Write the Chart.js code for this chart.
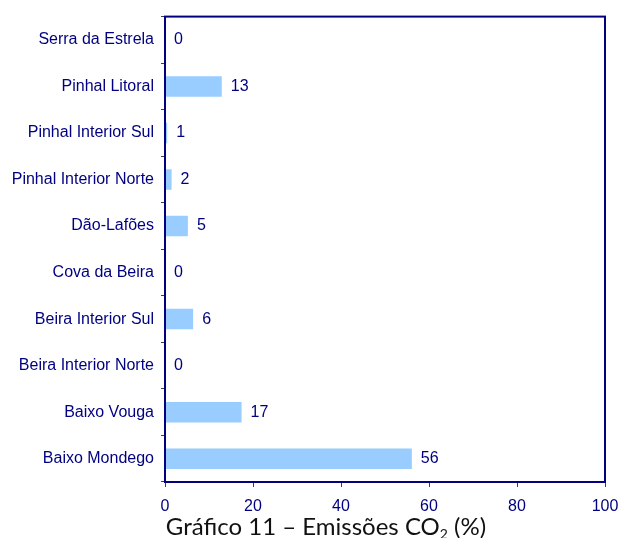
<!DOCTYPE html>
<html lang="pt">
<head>
  <meta charset="UTF-8">
  <title>Emissões CO2</title>
  <script src="https://cdn.jsdelivr.net/npm/chart.js"></script>
  <style>
    body { margin: 0; background: #fff; }
    #wrap { position: relative; width: 621px; height: 538px; }
    #title {
      position: absolute; left: 0; width: 652px; top: 511px;
      text-align: center; font-family: Lato, "Open Sans", sans-serif;
      font-size: 24px; color: #111; white-space: nowrap;
    }
    #title sub { font-size: 14px; vertical-align: -4px; line-height: 0; }
  </style>
</head>
<body>
  <div id="wrap">
    <canvas id="myChart"></canvas>
    <div id="title">Gráfico 11 – Emissões CO<sub>2</sub> (%)</div>
  </div>

<script>
  const regions = ['Serra da Estrela', 'Pinhal Litoral', 'Pinhal Interior Sul', 'Pinhal Interior Norte', 'Dão-Lafões',
    'Cova da Beira', 'Beira Interior Sul', 'Beira Interior Norte', 'Baixo Vouga', 'Baixo Mondego'];
  // % das emissões (rótulos arredondados)
  const emissions = [0, 12.9, 0.5, 1.5, 5.2, 0, 6.4, 0, 17.4, 56.1];
  const xTicks = [0, 20, 40, 60, 80, 100];

  const navy = '#000080';

  // rótulos de valor à direita das barras + moldura da área do gráfico
  const extras = {
    id: 'extras',
    afterDatasetsDraw(chart) {
      const c = chart.ctx;
      const area = chart.chartArea;
      c.save();
      c.font = '16px "Liberation Sans", Arial, sans-serif';
      c.fillStyle = navy;
      c.textAlign = 'left';
      c.textBaseline = 'middle';
      chart.getDatasetMeta(0).data.forEach((bar, i) => {
        c.fillText(String(Math.round(emissions[i])), bar.x + 9, bar.y);
      });
      c.strokeStyle = navy;
      c.lineWidth = 2;
      c.strokeRect(area.left, area.top, area.right - area.left, area.bottom - area.top);
      c.restore();
    }
  };

  const ctx = document.getElementById('myChart');
  const myChart = new Chart(ctx, {
    type: 'bar',
    data: {
      labels: regions,
      datasets: [{
        data: emissions,
        backgroundColor: '#99CCFF',
        barPercentage: 0.44,
        categoryPercentage: 1.0
      }]
    },
    plugins: [extras],
    options: {
      indexAxis: 'y',
      responsive: true,
      maintainAspectRatio: false,
      animation: false,
      layout: { padding: { top: 15, right: 16, bottom: 26, left: 0 } },
      plugins: { legend: { display: false }, tooltip: { enabled: false } },
      scales: {
        x: {
          min: 0, max: 100,
          clip: false,
          afterBuildTicks: (s) => { s.ticks = xTicks.map(v => ({ value: v })); },
          afterFit: (s) => { s.height = 30; s.paddingLeft = 0; s.paddingRight = 0; },
          grid: { drawOnChartArea: false, tickLength: 5, color: '#404040' },
          border: { color: navy, width: 2 },
          ticks: { color: navy, padding: 10, font: { family: '"Liberation Sans", Arial, sans-serif', size: 16 } }
        },
        y: {
          afterFit: (s) => { s.width = 165; },
          grid: { drawOnChartArea: false, offset: true, tickLength: 4, color: '#404040' },
          border: { color: navy, width: 2 },
          ticks: { color: navy, padding: 7, font: { family: '"Liberation Sans", Arial, sans-serif', size: 16 } }
        }
      }
    }
  });
</script>
</body>
</html>
